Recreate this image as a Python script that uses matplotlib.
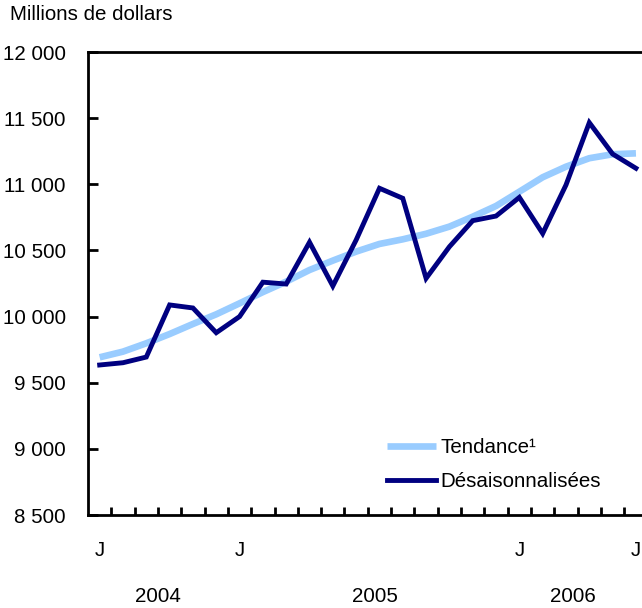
import matplotlib
matplotlib.use("Agg")
import matplotlib.pyplot as plt

plt.rcParams['font.family'] = ['Liberation Sans', 'DejaVu Sans']

months = list(range(24))
tendance = [9692, 9735, 9798, 9868, 9944, 10017, 10100, 10185, 10264, 10352,
            10423, 10491, 10549, 10584, 10626, 10680, 10755, 10836, 10944,
            11053, 11133, 11197, 11227, 11234]
desaison = [9634, 9651, 9694, 10088, 10065, 9878, 10000, 10260, 10246, 10562,
            10231, 10579, 10970, 10894, 10289, 10528, 10725, 10760, 10901,
            10628, 10995, 11466, 11229, 11121]
month_label_pos = [0, 6, 18, 23]
month_labels = ["J", "J", "J", "J"]
year_label_pos = [2.5, 11.8, 20.3]
year_labels = ["2004", "2005", "2006"]
yticks = [8500, 9000, 9500, 10000, 10500, 11000, 11500, 12000]
ytick_labels = ["8 500", "9 000", "9 500", "10 000", "10 500", "11 000", "11 500", "12 000"]

FS = 14.8
W, H = 642, 608
fig = plt.figure(figsize=(W / 100, H / 100), dpi=100)
left, right, top, bottom = 88, 647.6, 52, 515
ax = fig.add_axes([left / W, 1 - bottom / H, (right - left) / W, (bottom - top) / H])

ax.plot(months, tendance, color="#99CCFF", lw=4.8, solid_capstyle="butt",
        label="Tendance¹", zorder=2)
ax.plot(months, desaison, color="#000080", lw=3.5, solid_joinstyle="miter",
        label="Désaisonnalisées", zorder=3)

ax.set_xlim(-0.5, 23.5)
ax.set_ylim(8500, 12000)

ax.spines['right'].set_visible(False)
for s in ['left', 'bottom', 'top']:
    ax.spines[s].set_linewidth(2)
    ax.spines[s].set_color('black')

ax.set_yticks(yticks)
ax.set_yticklabels(ytick_labels, fontsize=FS)
ax.tick_params(axis='y', direction='in', length=7, width=2, pad=16)

ax.set_xticks([i + 0.5 for i in range(23)])
ax.set_xticklabels([])
ax.tick_params(axis='x', direction='in', length=6, width=2)

trans = ax.get_xaxis_transform()
for p, t in zip(month_label_pos, month_labels):
    ax.text(p, -36 / (bottom - top), t, transform=trans, ha='center', va='center', fontsize=FS)
for p, t in zip(year_label_pos, year_labels):
    ax.text(p, -82 / (bottom - top), t, transform=trans, ha='center', va='center', fontsize=FS)

fig.text(10 / W, 1 - 15 / H, "Millions de dollars", ha='left', va='center', fontsize=FS)

leg = ax.legend(loc='upper left', bbox_to_anchor=(387 / W, 1 - 438 / H),
                bbox_transform=fig.transFigure, frameon=False, fontsize=FS,
                handlelength=2.4, handletextpad=0.2, labelspacing=0.75,
                borderpad=0, borderaxespad=0)

fig.savefig("out.png", dpi=100)
